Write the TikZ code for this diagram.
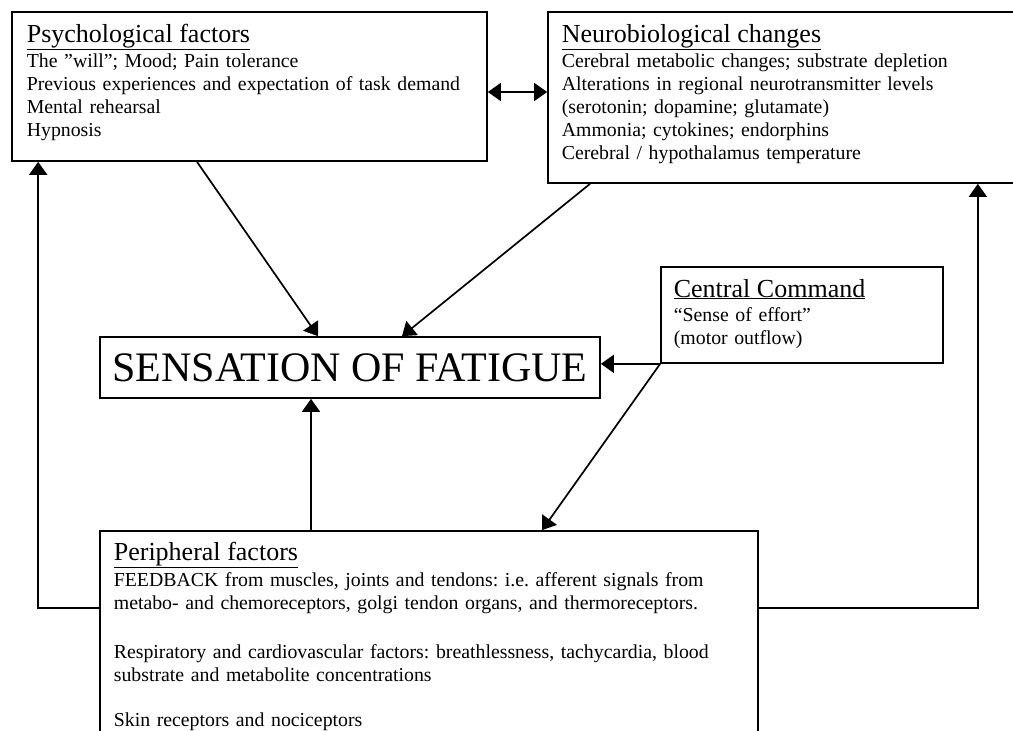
\documentclass[tikz,border=0pt]{standalone}
\usepackage{fontspec}
\setmainfont{Liberation Serif}
\usetikzlibrary{arrows.meta,calc}
\newcommand\bodyfont{\fontsize{19.8}{23}\selectfont\frenchspacing}
\newcommand\titlefont{\fontsize{26}{28}\selectfont}
\newcommand\bigfont{\fontsize{42}{44}\selectfont}
\tikzset{
	box/.style={draw, line width=1.7pt, inner sep=0pt},
	txt/.style={anchor=base west, align=left, inner sep=0pt, font=\bodyfont},
	>={Triangle[length=13pt,width=18pt]}
}

\begin{document}
\begin{tikzpicture}[x=1pt, y=-1pt, line width=1.7pt]
		\useasboundingbox (0,0) rectangle (1013,731);
		\clip (0,0) rectangle (1013,731);

		% Boxes
		\node[box, minimum width=475pt, minimum height=149pt] (psych) at (249.5,86.5) {};
		\node[box, minimum width=472pt, minimum height=171pt] (neuro) at (784,97.5) {};
		\node[box, minimum width=282pt, minimum height=96pt] (cc) at (802,315) {};
		\node[box, minimum width=500pt, minimum height=61pt, font=\bigfont] (sens) at (350,367.5) {SENSATION OF FATIGUE};
		\node[box, minimum width=658pt, minimum height=230pt] (periph) at (429,646) {};

		% Box texts
		\node[txt, text width=465pt] (psychtxt) at (26,42) {{\titlefont\underline{Psychological factors}}\\[2pt]
			The "will"; Mood; Pain tolerance\\
			Previous experiences and expectation of task demand\\
			Mental rehearsal\\
			Hypnosis};
		\node[txt, text width=445pt] (neurotxt) at (561,42) {{\titlefont\underline{Neurobiological changes}}\\[2pt]
			Cerebral metabolic changes; substrate depletion\\
			Alterations in regional neurotransmitter levels\\
			(serotonin; dopamine; glutamate)\\
			Ammonia; cytokines; endorphins\\
			Cerebral / hypothalamus temperature};
		\node[txt, text width=265pt] (cctxt) at (673,297) {{\titlefont\underline{Central Command}}\\[1pt]
			“Sense of effort”\\
			(motor outflow)};
		\node[txt, text width=640pt] (periphtxt) at (113,560) {{\titlefont\underline{Peripheral factors}}\\[3pt]
			FEEDBACK from muscles, joints and tendons: i.e. afferent signals from\\
			metabo- and chemoreceptors, golgi tendon organs, and thermoreceptors.\\[26pt]
			Respiratory and cardiovascular factors: breathlessness, tachycardia, blood\\
			substrate and metabolite concentrations\\[22pt]
			Skin receptors and nociceptors};

		% Connectors
		\draw[<->] ([yshift=-5.5pt]psych.east) -- ([yshift=-5.5pt]psych.east -| neuro.west);
		\draw[->] ([xshift=-52.5pt]psych.south) -- ([xshift=-32pt]sens.north);
		\draw[->] ([xshift=-194pt]neuro.south) -- ([xshift=52pt]sens.north);
		\draw[->] (cc.south west) -- (cc.south west -| sens.east);
		\draw[->] (cc.south west) -- ([xshift=113pt]periph.north);
		\draw[->] ([xshift=-118pt]periph.north) -- ([xshift=-118pt]periph.north |- sens.south);

		% Feedback loops
		\coordinate (fbleft) at ([yshift=38pt]periph.west);
		\coordinate (fbright) at ([yshift=38pt]periph.east);
		\draw[->] (fbleft) -| ([xshift=27pt]psych.south west);
		\draw[->] (fbright) -| ([xshift=-43pt]neuro.south east);
\end{tikzpicture}
\end{document}
